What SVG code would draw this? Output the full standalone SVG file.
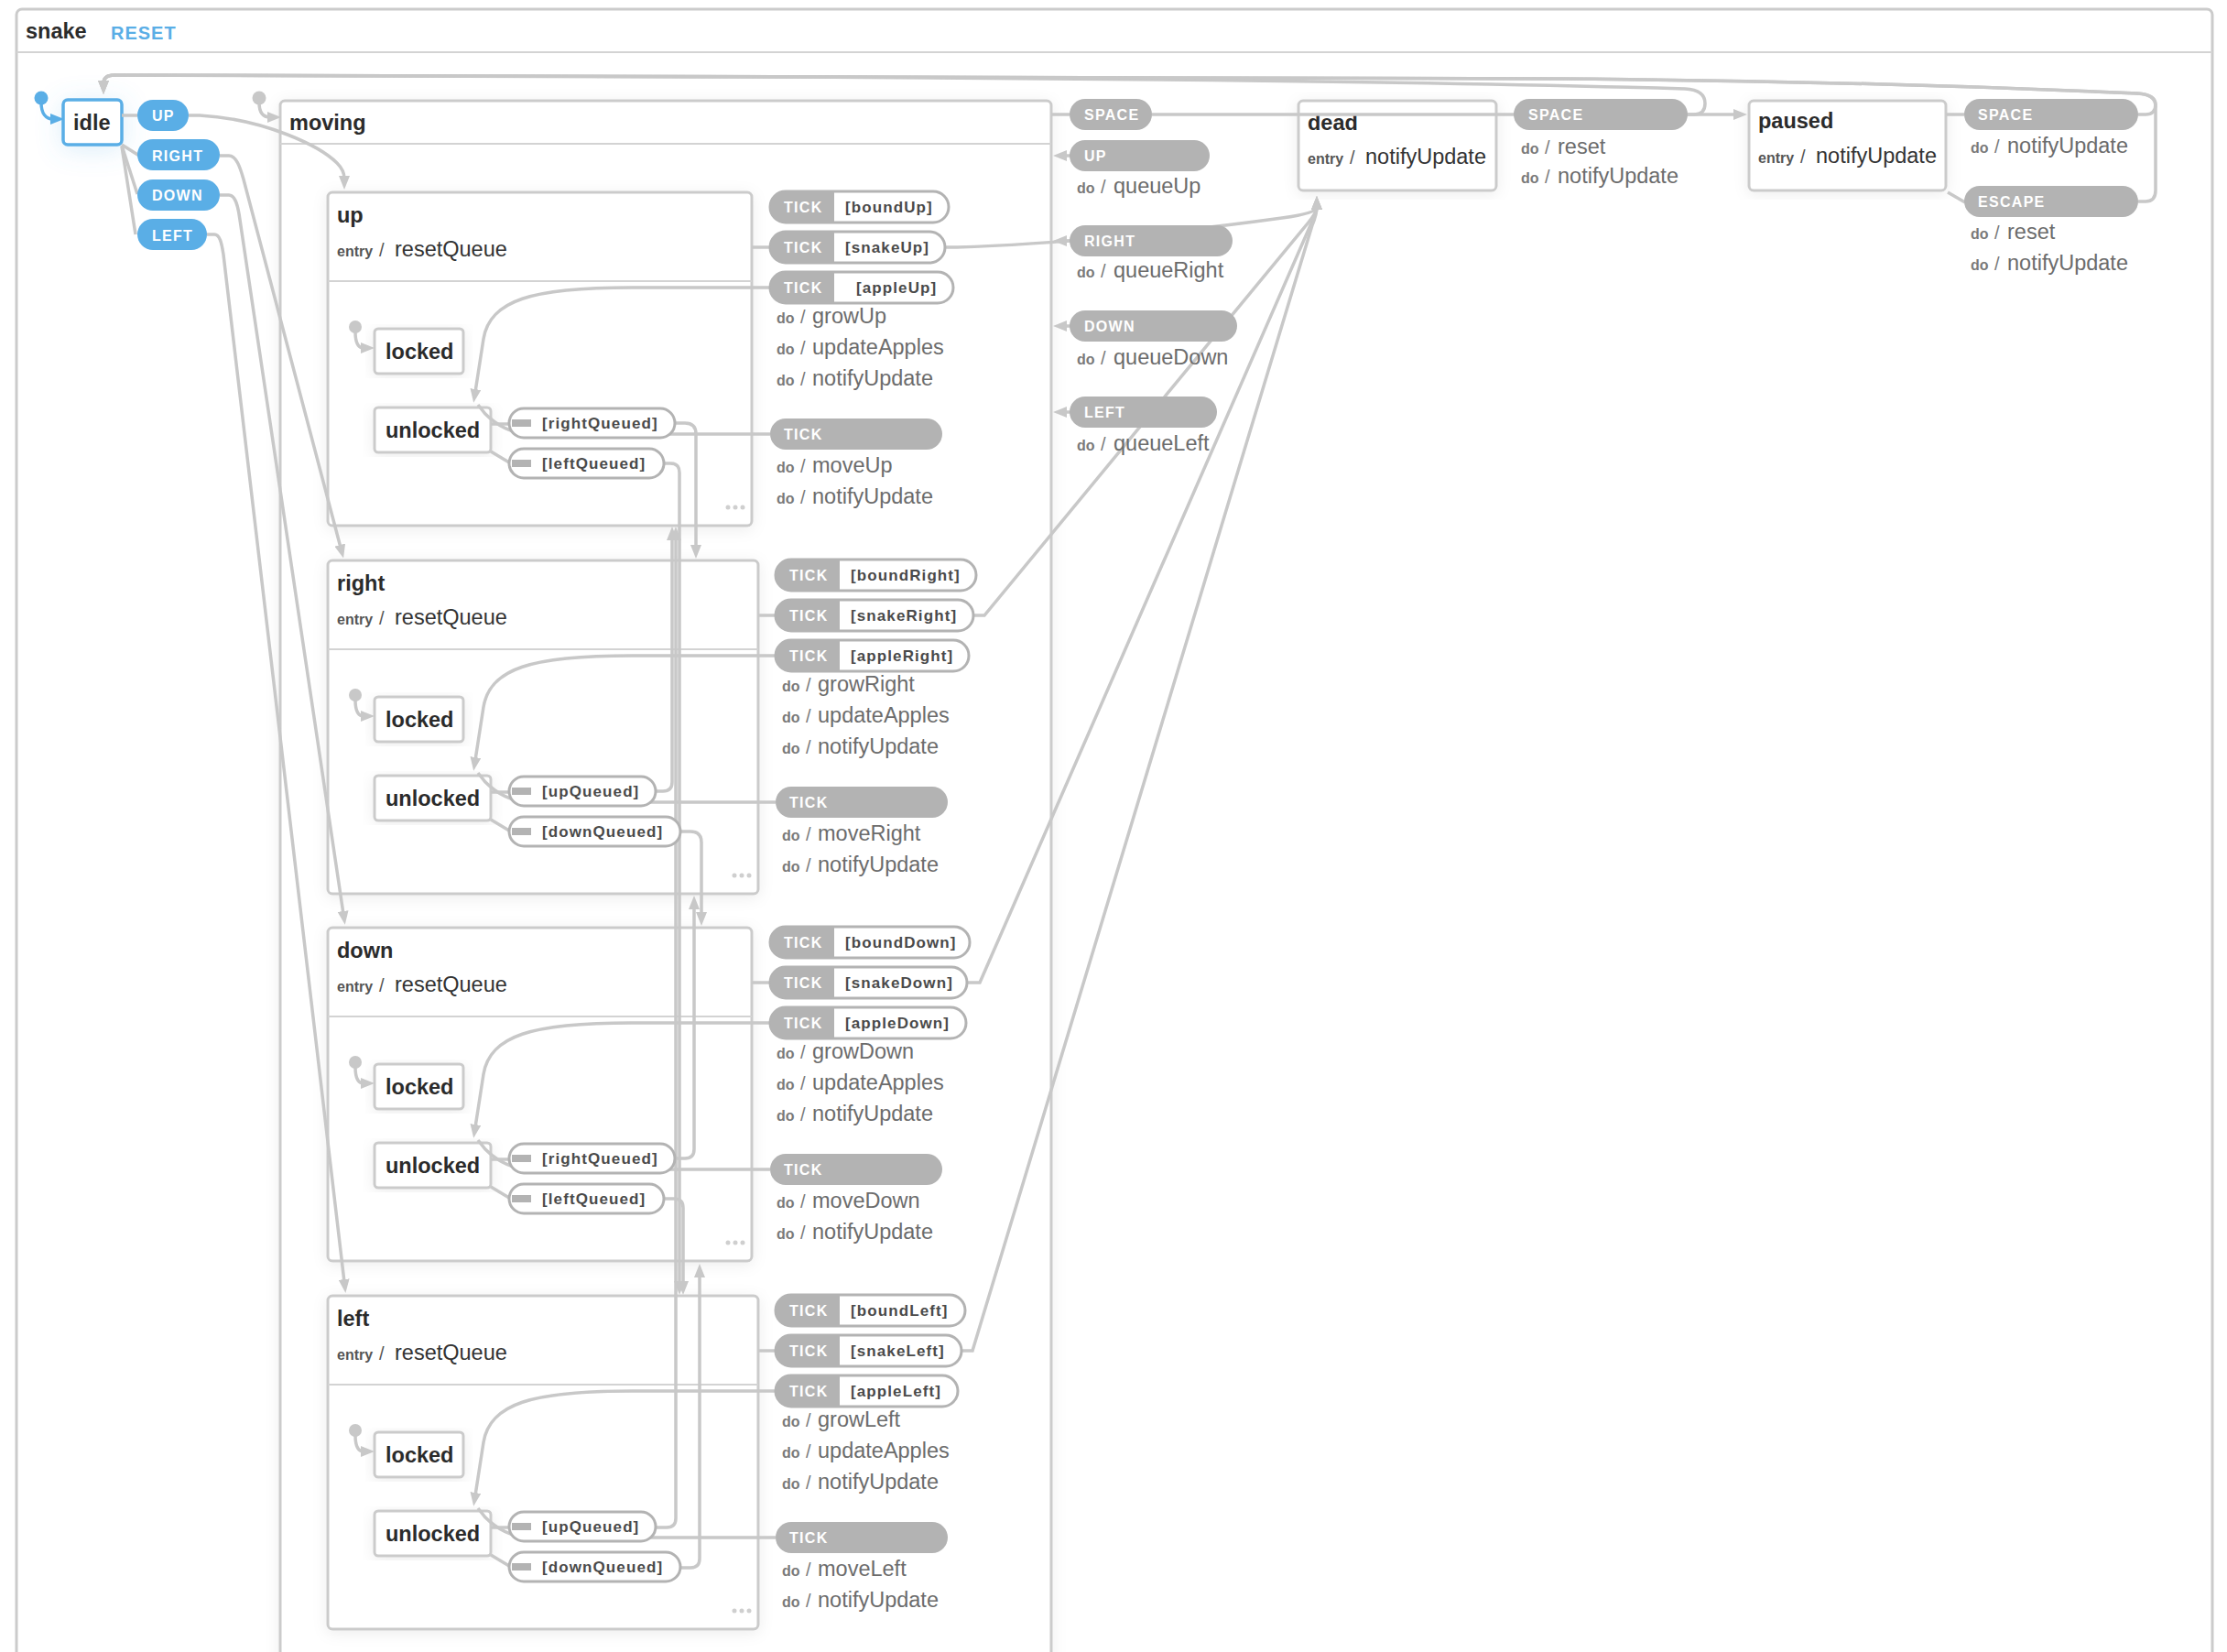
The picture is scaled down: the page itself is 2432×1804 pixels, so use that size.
<svg xmlns="http://www.w3.org/2000/svg" width="2432" height="1804" viewBox="0 0 2432 1804">
<defs>
<style>
text{font-family:'Liberation Sans',Arial,sans-serif}
.box{fill:#fff;stroke:#cbcbcb;stroke-width:3}
.sbox{fill:#fff;stroke:#cbcbcb;stroke-width:3;filter:url(#sh)}
.div{stroke:#d3d3d3;stroke-width:2}
.name{font-weight:bold;font-size:23.5px;fill:#2b2b2b}
.ek{font-weight:bold;font-size:16px;fill:#555}
.es{font-size:20px;fill:#555}
.ea{font-size:23.5px;fill:#333}
.dk{font-weight:bold;font-size:16px;fill:#7a7a7a}
.ds{font-size:20px;fill:#7a7a7a}
.da{font-size:23.5px;fill:#6c6c6c}
.edge{fill:none;stroke:#c8c8c8;stroke-width:3.5}
.arr{fill:none;stroke:#c8c8c8;stroke-width:3.5;marker-end:url(#ah)}
.pg{fill:#b3b3b3}
.pw{fill:#fff;stroke:#b3b3b3;stroke-width:3}
.pt{font-weight:bold;font-size:16px;fill:#fff;letter-spacing:1.3px}
.gt{font-weight:bold;font-size:17px;fill:#4a4a4a;letter-spacing:1.1px}
.blue{fill:#5aaee6}
.dot{fill:#cfcfcf}
.init{fill:#c8c8c8}
</style>
<marker id="ah" viewBox="0 0 15 12" refX="3" refY="6" markerWidth="15" markerHeight="12" markerUnits="userSpaceOnUse" orient="auto"><path d="M0 0L15 6L0 12z" fill="#c8c8c8"/></marker>
<marker id="ahb" viewBox="0 0 15 12" refX="3" refY="6" markerWidth="15" markerHeight="12" markerUnits="userSpaceOnUse" orient="auto"><path d="M0 0L15 6L0 12z" fill="#5aaee6"/></marker>
<filter id="sh" x="-10%" y="-10%" width="120%" height="120%"><feDropShadow dx="0" dy="3" stdDeviation="8" flood-color="#000" flood-opacity="0.07"/></filter>
<filter id="glow" x="-80%" y="-80%" width="260%" height="260%"><feDropShadow dx="0" dy="4" stdDeviation="14" flood-color="#5aaee6" flood-opacity="0.22"/></filter>
</defs>
<rect width="2432" height="1804" fill="#fff"/>

<!-- NODES -->
<g id="snake">
<rect class="box" x="18" y="10" width="2398" height="1830" rx="6"/>
<line class="div" x1="18" x2="2416" y1="57" y2="57"/>
<text class="name" x="28" y="42">snake</text>
<text x="121" y="43" font-weight="bold" font-size="20" fill="#5aaee6" letter-spacing="1">RESET</text>
</g>

<g id="idle">
<rect x="69" y="109" width="64" height="49" rx="5" fill="#fff" stroke="#5aaee6" stroke-width="3.5" filter="url(#glow)"/>
<text class="name" x="80" y="142">idle</text>
</g>

<g id="moving">
<rect class="sbox" x="306" y="110" width="842" height="1730" rx="5"/>
<line class="div" x1="306" x2="1148" y1="157" y2="157"/>
<text class="name" x="316" y="142">moving</text>
</g>

<g id="up">
<rect class="sbox" x="358" y="210" width="463" height="364" rx="5"/>
<text class="name" x="368" y="243">up</text>
<text y="280"><tspan class="ek" x="368">entry</tspan><tspan class="es" x="414">/</tspan><tspan class="ea" x="431">resetQueue</tspan></text>
<line class="div" x1="358" x2="821" y1="307" y2="307"/>
<circle class="dot" cx="795" cy="554" r="2.5"/><circle class="dot" cx="803" cy="554" r="2.5"/><circle class="dot" cx="811" cy="554" r="2.5"/>
<g id="up-locked"><rect class="sbox" x="409" y="359" width="97" height="49" rx="4"/><text class="name" x="421" y="392">locked</text></g>
<g id="up-unlocked"><rect class="sbox" x="409" y="445" width="127" height="49" rx="4"/><text class="name" x="421" y="478">unlocked</text></g>
</g>

<g id="right">
<rect class="sbox" x="358" y="612" width="470" height="364" rx="5"/>
<text class="name" x="368" y="645">right</text>
<text y="682"><tspan class="ek" x="368">entry</tspan><tspan class="es" x="414">/</tspan><tspan class="ea" x="431">resetQueue</tspan></text>
<line class="div" x1="358" x2="828" y1="709" y2="709"/>
<circle class="dot" cx="802" cy="956" r="2.5"/><circle class="dot" cx="810" cy="956" r="2.5"/><circle class="dot" cx="818" cy="956" r="2.5"/>
<g id="right-locked"><rect class="sbox" x="409" y="761" width="97" height="49" rx="4"/><text class="name" x="421" y="794">locked</text></g>
<g id="right-unlocked"><rect class="sbox" x="409" y="847" width="127" height="49" rx="4"/><text class="name" x="421" y="880">unlocked</text></g>
</g>

<g id="down">
<rect class="sbox" x="358" y="1013" width="463" height="364" rx="5"/>
<text class="name" x="368" y="1046">down</text>
<text y="1083"><tspan class="ek" x="368">entry</tspan><tspan class="es" x="414">/</tspan><tspan class="ea" x="431">resetQueue</tspan></text>
<line class="div" x1="358" x2="821" y1="1110" y2="1110"/>
<circle class="dot" cx="795" cy="1357" r="2.5"/><circle class="dot" cx="803" cy="1357" r="2.5"/><circle class="dot" cx="811" cy="1357" r="2.5"/>
<g id="down-locked"><rect class="sbox" x="409" y="1162" width="97" height="49" rx="4"/><text class="name" x="421" y="1195">locked</text></g>
<g id="down-unlocked"><rect class="sbox" x="409" y="1248" width="127" height="49" rx="4"/><text class="name" x="421" y="1281">unlocked</text></g>
</g>

<g id="left">
<rect class="sbox" x="358" y="1415" width="470" height="364" rx="5"/>
<text class="name" x="368" y="1448">left</text>
<text y="1485"><tspan class="ek" x="368">entry</tspan><tspan class="es" x="414">/</tspan><tspan class="ea" x="431">resetQueue</tspan></text>
<line class="div" x1="358" x2="828" y1="1512" y2="1512"/>
<circle class="dot" cx="802" cy="1759" r="2.5"/><circle class="dot" cx="810" cy="1759" r="2.5"/><circle class="dot" cx="818" cy="1759" r="2.5"/>
<g id="left-locked"><rect class="sbox" x="409" y="1564" width="97" height="49" rx="4"/><text class="name" x="421" y="1597">locked</text></g>
<g id="left-unlocked"><rect class="sbox" x="409" y="1650" width="127" height="49" rx="4"/><text class="name" x="421" y="1683">unlocked</text></g>
</g>

<g id="dead">
<rect class="sbox" x="1418" y="110" width="216" height="98" rx="5"/>
<text class="name" x="1428" y="142">dead</text>
<text y="179"><tspan class="ek" x="1428">entry</tspan><tspan class="es" x="1474">/</tspan><tspan class="ea" x="1491" fill="#222">notifyUpdate</tspan></text>
</g>

<g id="paused">
<rect class="sbox" x="1910" y="110" width="215" height="98" rx="5"/>
<text class="name" x="1920" y="140">paused</text>
<text y="178"><tspan class="ek" x="1920">entry</tspan><tspan class="es" x="1966">/</tspan><tspan class="ea" x="1983" fill="#222">notifyUpdate</tspan></text>
</g>

<!-- CONNECTORS -->
<g id="connectors">
<circle cx="45" cy="107" r="7.5" class="blue"/>
<path d="M45 112C45 124 50 130 58 130" fill="none" stroke="#5aaee6" stroke-width="3.5" marker-end="url(#ahb)"/>
<circle cx="283" cy="107" r="7.5" class="init"/>
<path class="arr" d="M283 112C283 123 287 128 295 128"/>
<circle cx="388" cy="357" r="7" class="init"/><path class="arr" d="M388 362C388 373 391 380 397 380"/>
<circle cx="388" cy="759" r="7" class="init"/><path class="arr" d="M388 764C388 775 391 782 397 782"/>
<circle cx="388" cy="1160" r="7" class="init"/><path class="arr" d="M388 1165C388 1176 391 1183 397 1183"/>
<circle cx="388" cy="1562" r="7" class="init"/><path class="arr" d="M388 1567C388 1578 391 1585 397 1585"/>

<!-- idle events -->
<path class="edge" d="M133 126H150"/>
<path class="edge" d="M133 158L152 170"/>
<path class="edge" d="M133 159L150 212"/>
<path class="edge" d="M133 160L148 256"/>
<path class="arr" d="M206 126H218C290 130 350 160 368 178Q376 186 376 195"/>
<path class="arr" d="M240 170H250C258 170 262 182 266 196L372 598"/>
<path class="arr" d="M240 213H250C257 213 260 225 262 240L375 998"/>
<path class="arr" d="M226 256H234C240 256 242 265 244 278L376 1400"/>

<!-- moving events -->
<path class="edge" d="M1148 125H1168"/>
<path class="arr" d="M1258 125H1896"/>
<path class="arr" d="M1170 170H1162"/>
<path class="arr" d="M1170 263H1162"/>
<path class="arr" d="M1170 356H1162"/>
<path class="arr" d="M1170 450H1162"/>

<!-- dead / paused -->
<path class="arr" d="M1843 125H1850Q1862 125 1862 113Q1862 98 1840 97C1600 90 1200 85 800 84L125 82Q113 82 113 91"/>
<path class="edge" d="M2125 125H2145"/>
<path class="edge" d="M2127 210L2146 221"/>
<path class="arr" d="M2335 125H2343Q2354 125 2354 114Q2354 103 2334 102C2200 96 2000 88 1700 86L125 82Q113 82 113 91"/>
<path class="arr" d="M2335 220H2343Q2354 220 2354 208V116Q2354 103 2334 102C2200 96 2000 88 1700 86L125 82Q113 82 113 91"/>

<!-- to dead -->
<path class="arr" d="M1032 270H1045C1150 267 1300 252 1400 238Q1438 233 1438 226"/>
<path class="arr" d="M1063 672H1075L1428 244Q1438 232 1438 226"/>
<path class="arr" d="M1056 1073H1070L1431 246Q1438 233 1438 226"/>
<path class="arr" d="M1050 1475H1062L1433 246Q1438 234 1438 226"/>

<!-- up internals -->
<path class="edge" d="M821 270H841"/>
<path class="arr" d="M841 314H690C580 314 535 328 528 370L519 428"/>
<path class="edge" d="M841 474H575C555 472 540 462 530 452L522 442"/>
<path class="edge" d="M536 463H556"/>
<path class="edge" d="M536 493L556 505"/>
<!-- right internals -->
<path class="edge" d="M828 672H847"/>
<path class="arr" d="M847 716H690C580 716 535 730 528 772L519 830"/>
<path class="edge" d="M847 876H575C555 874 540 864 530 854L522 844"/>
<path class="edge" d="M536 865H556"/>
<path class="edge" d="M536 895L556 907"/>
<!-- down internals -->
<path class="edge" d="M821 1073H841"/>
<path class="arr" d="M841 1117H690C580 1117 535 1131 528 1173L519 1231"/>
<path class="edge" d="M841 1277H575C555 1275 540 1265 530 1255L522 1245"/>
<path class="edge" d="M536 1266H556"/>
<path class="edge" d="M536 1296L556 1308"/>
<!-- left internals -->
<path class="edge" d="M828 1475H847"/>
<path class="arr" d="M847 1519H690C580 1519 535 1533 528 1575L519 1633"/>
<path class="edge" d="M847 1679H575C555 1677 540 1667 530 1657L522 1647"/>
<path class="edge" d="M536 1668H556"/>
<path class="edge" d="M536 1698L556 1710"/>

<!-- queued direction changes -->
<path class="arr" d="M737 462H748Q760 462 760 474V598"/>
<path class="arr" d="M725 506H732Q742 506 742 516V1402"/>
<path class="arr" d="M716 864H724Q734 864 734 854V587"/>
<path class="arr" d="M743 908H754Q766 908 766 920V999"/>
<path class="arr" d="M737 1265H748Q758 1265 758 1255V990"/>
<path class="arr" d="M725 1309H736Q746 1309 746 1319V1402"/>
<path class="arr" d="M716 1668H728Q738 1668 738 1658V587"/>
<path class="arr" d="M743 1712H754Q764 1712 764 1702V1392"/>
</g>

<!-- EDGE LABELS -->
<g id="edge-labels">
<!-- idle -->
<rect class="blue" x="150" y="109" width="56" height="34" rx="17"/><text class="pt" x="166" y="132">UP</text>
<rect class="blue" x="150" y="152" width="90" height="34" rx="17"/><text class="pt" x="166" y="176">RIGHT</text>
<rect class="blue" x="150" y="196" width="90" height="34" rx="17"/><text class="pt" x="166" y="219">DOWN</text>
<rect class="blue" x="150" y="239" width="76" height="34" rx="17"/><text class="pt" x="166" y="263">LEFT</text>

<!-- moving -->
<rect class="pg" x="1168" y="108" width="90" height="34" rx="17"/><text class="pt" x="1184" y="131">SPACE</text>
<rect class="pg" x="1168" y="153" width="153" height="34" rx="17"/><text class="pt" x="1184" y="176">UP</text>
<text y="211"><tspan class="dk" x="1176">do</tspan><tspan class="ds" x="1202">/</tspan><tspan class="da" x="1216">queueUp</tspan></text>
<rect class="pg" x="1168" y="246" width="178" height="34" rx="17"/><text class="pt" x="1184" y="269">RIGHT</text>
<text y="303"><tspan class="dk" x="1176">do</tspan><tspan class="ds" x="1202">/</tspan><tspan class="da" x="1216">queueRight</tspan></text>
<rect class="pg" x="1168" y="339" width="183" height="34" rx="17"/><text class="pt" x="1184" y="362">DOWN</text>
<text y="398"><tspan class="dk" x="1176">do</tspan><tspan class="ds" x="1202">/</tspan><tspan class="da" x="1216">queueDown</tspan></text>
<rect class="pg" x="1168" y="433" width="161" height="34" rx="17"/><text class="pt" x="1184" y="456">LEFT</text>
<text y="492"><tspan class="dk" x="1176">do</tspan><tspan class="ds" x="1202">/</tspan><tspan class="da" x="1216">queueLeft</tspan></text>

<!-- dead -->
<rect class="pg" x="1653" y="108" width="190" height="34" rx="17"/><text class="pt" x="1669" y="131">SPACE</text>
<text y="168"><tspan class="dk" x="1661">do</tspan><tspan class="ds" x="1687">/</tspan><tspan class="da" x="1701">reset</tspan></text>
<text y="200"><tspan class="dk" x="1661">do</tspan><tspan class="ds" x="1687">/</tspan><tspan class="da" x="1701">notifyUpdate</tspan></text>

<!-- paused -->
<rect class="pg" x="2145" y="108" width="190" height="34" rx="17"/><text class="pt" x="2160" y="131">SPACE</text>
<text y="167"><tspan class="dk" x="2152">do</tspan><tspan class="ds" x="2178">/</tspan><tspan class="da" x="2192">notifyUpdate</tspan></text>
<rect class="pg" x="2145" y="203" width="190" height="34" rx="17"/><text class="pt" x="2160" y="226">ESCAPE</text>
<text y="261"><tspan class="dk" x="2152">do</tspan><tspan class="ds" x="2178">/</tspan><tspan class="da" x="2192">reset</tspan></text>
<text y="295"><tspan class="dk" x="2152">do</tspan><tspan class="ds" x="2178">/</tspan><tspan class="da" x="2192">notifyUpdate</tspan></text>

<!-- up -->
<rect class="pw" x="556" y="446" width="181" height="32" rx="16"/><rect class="pg" x="559" y="458" width="21" height="8"/><text class="gt" x="592" y="468">[rightQueued]</text>
<rect class="pw" x="556" y="490" width="169" height="32" rx="16"/><rect class="pg" x="559" y="502" width="21" height="8"/><text class="gt" x="592" y="512">[leftQueued]</text>
<rect class="pw" x="841" y="209" width="195" height="34" rx="17"/><path class="pg" d="M858 209H911V243H858A17 17 0 0 1 858 209Z"/><text class="pt" x="856" y="232">TICK</text><text class="gt" x="923" y="232">[boundUp]</text>
<rect class="pw" x="841" y="253" width="191" height="34" rx="17"/><path class="pg" d="M858 253H911V287H858A17 17 0 0 1 858 253Z"/><text class="pt" x="856" y="276">TICK</text><text class="gt" x="923" y="276">[snakeUp]</text>
<rect class="pw" x="841" y="297" width="200" height="34" rx="17"/><path class="pg" d="M858 297H911V331H858A17 17 0 0 1 858 297Z"/><text class="pt" x="856" y="320">TICK</text><text class="gt" x="935" y="320">[appleUp]</text>
<text y="353"><tspan class="dk" x="848">do</tspan><tspan class="ds" x="874">/</tspan><tspan class="da" x="887">growUp</tspan></text>
<text y="387"><tspan class="dk" x="848">do</tspan><tspan class="ds" x="874">/</tspan><tspan class="da" x="887">updateApples</tspan></text>
<text y="421"><tspan class="dk" x="848">do</tspan><tspan class="ds" x="874">/</tspan><tspan class="da" x="887">notifyUpdate</tspan></text>
<rect class="pg" x="841" y="457" width="188" height="34" rx="17"/><text class="pt" x="856" y="480">TICK</text>
<text y="516"><tspan class="dk" x="848">do</tspan><tspan class="ds" x="874">/</tspan><tspan class="da" x="887">moveUp</tspan></text>
<text y="550"><tspan class="dk" x="848">do</tspan><tspan class="ds" x="874">/</tspan><tspan class="da" x="887">notifyUpdate</tspan></text>

<!-- right -->
<rect class="pw" x="556" y="848" width="160" height="32" rx="16"/><rect class="pg" x="559" y="860" width="21" height="8"/><text class="gt" x="592" y="870">[upQueued]</text>
<rect class="pw" x="556" y="892" width="187" height="32" rx="16"/><rect class="pg" x="559" y="904" width="21" height="8"/><text class="gt" x="592" y="914">[downQueued]</text>
<rect class="pw" x="847" y="611" width="219" height="34" rx="17"/><path class="pg" d="M864 611H917V645H864A17 17 0 0 1 864 611Z"/><text class="pt" x="862" y="634">TICK</text><text class="gt" x="929" y="634">[boundRight]</text>
<rect class="pw" x="847" y="655" width="216" height="34" rx="17"/><path class="pg" d="M864 655H917V689H864A17 17 0 0 1 864 655Z"/><text class="pt" x="862" y="678">TICK</text><text class="gt" x="929" y="678">[snakeRight]</text>
<rect class="pw" x="847" y="699" width="211" height="34" rx="17"/><path class="pg" d="M864 699H917V733H864A17 17 0 0 1 864 699Z"/><text class="pt" x="862" y="722">TICK</text><text class="gt" x="929" y="722">[appleRight]</text>
<text y="755"><tspan class="dk" x="854">do</tspan><tspan class="ds" x="880">/</tspan><tspan class="da" x="893">growRight</tspan></text>
<text y="789"><tspan class="dk" x="854">do</tspan><tspan class="ds" x="880">/</tspan><tspan class="da" x="893">updateApples</tspan></text>
<text y="823"><tspan class="dk" x="854">do</tspan><tspan class="ds" x="880">/</tspan><tspan class="da" x="893">notifyUpdate</tspan></text>
<rect class="pg" x="847" y="859" width="188" height="34" rx="17"/><text class="pt" x="862" y="882">TICK</text>
<text y="918"><tspan class="dk" x="854">do</tspan><tspan class="ds" x="880">/</tspan><tspan class="da" x="893">moveRight</tspan></text>
<text y="952"><tspan class="dk" x="854">do</tspan><tspan class="ds" x="880">/</tspan><tspan class="da" x="893">notifyUpdate</tspan></text>

<!-- down -->
<rect class="pw" x="556" y="1249" width="181" height="32" rx="16"/><rect class="pg" x="559" y="1261" width="21" height="8"/><text class="gt" x="592" y="1271">[rightQueued]</text>
<rect class="pw" x="556" y="1293" width="169" height="32" rx="16"/><rect class="pg" x="559" y="1305" width="21" height="8"/><text class="gt" x="592" y="1315">[leftQueued]</text>
<rect class="pw" x="841" y="1012" width="218" height="34" rx="17"/><path class="pg" d="M858 1012H911V1046H858A17 17 0 0 1 858 1012Z"/><text class="pt" x="856" y="1035">TICK</text><text class="gt" x="923" y="1035">[boundDown]</text>
<rect class="pw" x="841" y="1056" width="215" height="34" rx="17"/><path class="pg" d="M858 1056H911V1090H858A17 17 0 0 1 858 1056Z"/><text class="pt" x="856" y="1079">TICK</text><text class="gt" x="923" y="1079">[snakeDown]</text>
<rect class="pw" x="841" y="1100" width="214" height="34" rx="17"/><path class="pg" d="M858 1100H911V1134H858A17 17 0 0 1 858 1100Z"/><text class="pt" x="856" y="1123">TICK</text><text class="gt" x="923" y="1123">[appleDown]</text>
<text y="1156"><tspan class="dk" x="848">do</tspan><tspan class="ds" x="874">/</tspan><tspan class="da" x="887">growDown</tspan></text>
<text y="1190"><tspan class="dk" x="848">do</tspan><tspan class="ds" x="874">/</tspan><tspan class="da" x="887">updateApples</tspan></text>
<text y="1224"><tspan class="dk" x="848">do</tspan><tspan class="ds" x="874">/</tspan><tspan class="da" x="887">notifyUpdate</tspan></text>
<rect class="pg" x="841" y="1260" width="188" height="34" rx="17"/><text class="pt" x="856" y="1283">TICK</text>
<text y="1319"><tspan class="dk" x="848">do</tspan><tspan class="ds" x="874">/</tspan><tspan class="da" x="887">moveDown</tspan></text>
<text y="1353"><tspan class="dk" x="848">do</tspan><tspan class="ds" x="874">/</tspan><tspan class="da" x="887">notifyUpdate</tspan></text>

<!-- left -->
<rect class="pw" x="556" y="1651" width="160" height="32" rx="16"/><rect class="pg" x="559" y="1663" width="21" height="8"/><text class="gt" x="592" y="1673">[upQueued]</text>
<rect class="pw" x="556" y="1695" width="187" height="32" rx="16"/><rect class="pg" x="559" y="1707" width="21" height="8"/><text class="gt" x="592" y="1717">[downQueued]</text>
<rect class="pw" x="847" y="1414" width="207" height="34" rx="17"/><path class="pg" d="M864 1414H917V1448H864A17 17 0 0 1 864 1414Z"/><text class="pt" x="862" y="1437">TICK</text><text class="gt" x="929" y="1437">[boundLeft]</text>
<rect class="pw" x="847" y="1458" width="203" height="34" rx="17"/><path class="pg" d="M864 1458H917V1492H864A17 17 0 0 1 864 1458Z"/><text class="pt" x="862" y="1481">TICK</text><text class="gt" x="929" y="1481">[snakeLeft]</text>
<rect class="pw" x="847" y="1502" width="199" height="34" rx="17"/><path class="pg" d="M864 1502H917V1536H864A17 17 0 0 1 864 1502Z"/><text class="pt" x="862" y="1525">TICK</text><text class="gt" x="929" y="1525">[appleLeft]</text>
<text y="1558"><tspan class="dk" x="854">do</tspan><tspan class="ds" x="880">/</tspan><tspan class="da" x="893">growLeft</tspan></text>
<text y="1592"><tspan class="dk" x="854">do</tspan><tspan class="ds" x="880">/</tspan><tspan class="da" x="893">updateApples</tspan></text>
<text y="1626"><tspan class="dk" x="854">do</tspan><tspan class="ds" x="880">/</tspan><tspan class="da" x="893">notifyUpdate</tspan></text>
<rect class="pg" x="847" y="1662" width="188" height="34" rx="17"/><text class="pt" x="862" y="1685">TICK</text>
<text y="1721"><tspan class="dk" x="854">do</tspan><tspan class="ds" x="880">/</tspan><tspan class="da" x="893">moveLeft</tspan></text>
<text y="1755"><tspan class="dk" x="854">do</tspan><tspan class="ds" x="880">/</tspan><tspan class="da" x="893">notifyUpdate</tspan></text>
</g>
</svg>
